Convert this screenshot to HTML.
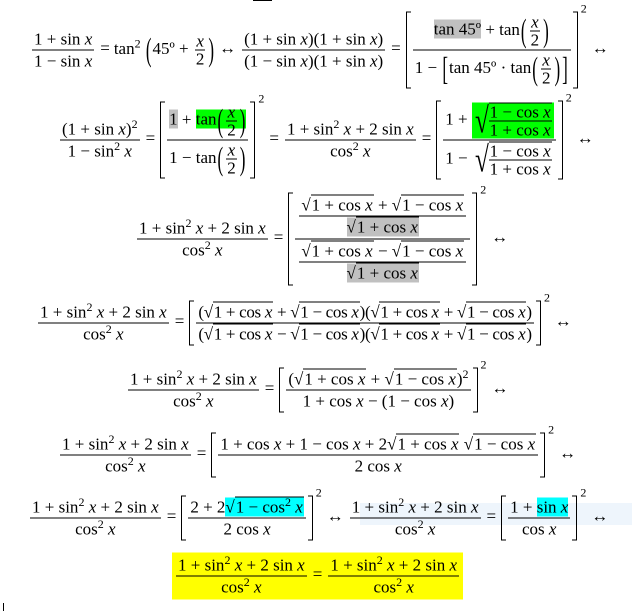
<!DOCTYPE html>
<html><head><meta charset="utf-8"><style>
body{margin:0;width:632px;height:614px;background:#fff;position:relative;overflow:hidden;font-family:"Liberation Serif",serif;font-size:17px;color:#000}
.row{position:absolute;white-space:nowrap;transform:translateY(-50%);line-height:19px}
.fr{display:inline-block;vertical-align:middle;text-align:center;margin:0 2px}
.fr>span{display:block;padding:1px 2px}
.fr>span:first-child{border-bottom:1px solid #000}
.sm{font-size:17px;line-height:17px}
.sm>span{padding:0 1px}
.op{margin:0 4px}
.bg{display:inline-block;vertical-align:middle;position:relative;padding:1px 5px;margin:0 10px 0 1px}
.bg::before,.bg::after{content:"";position:absolute;top:0;bottom:0;width:4px;border:1.4px solid #000}
.bg::before{left:0;border-right:none}
.bg::after{right:0;border-left:none}
.s2{font-size:12px;position:absolute;right:-9px;top:-9px;line-height:12px}
.p{display:inline-block;vertical-align:middle;transform:scaleY(1.9);margin:0 1px}
.sq{display:inline-block;white-space:nowrap}
.sq>span{border-top:1px solid #000;padding:0 1px}
.gr{background:#c0c0c0}.gn{background:#00ff00}.cy{background:#00ffff}
sup{font-size:12px;line-height:0}
.bsq{display:inline-block;vertical-align:middle}
.bsq>b{font-weight:normal;font-size:36px;display:inline-block;vertical-align:middle;transform:scaleX(0.7)}
.bsq>.fr{border-top:1px solid #000;margin-left:-3px}
</style></head><body>
<div style="position:absolute;left:253px;top:0;width:19px;height:1px;background:#000"></div>
<div style="position:absolute;left:3px;top:603px;width:1px;height:8px;background:#000"></div>
<div style="position:absolute;left:360px;top:503px;width:272px;height:22px;background:#eef5fc"></div>

<div class="row" style="left:30px;top:50px">
<span class="fr"><span>1 + sin <i>x</i></span><span>1 − sin <i>x</i></span></span><span class="op">=</span>tan<sup>2</sup> <span class="p">(</span>45º + <span class="fr sm"><span><i>x</i></span><span>2</span></span><span class="p">)</span><span class="op">↔</span><span class="fr"><span>(1 + sin <i>x</i>)(1 + sin <i>x</i>)</span><span>(1 − sin <i>x</i>)(1 + sin <i>x</i>)</span></span><span class="op">=</span><span class="bg"><span class="fr"><span><span class="gr">tan 45º</span> + tan<span class="p">(</span><span class="fr sm"><span><i>x</i></span><span>2</span></span><span class="p">)</span></span><span>1 − <span class="p">[</span>tan 45º · tan<span class="p">(</span><span class="fr sm"><span><i>x</i></span><span>2</span></span><span class="p">)</span><span class="p">]</span></span></span><span class="s2">2</span></span><span class="op">↔</span>
</div>

<div class="row" style="left:58px;top:140px">
<span class="fr"><span>(1 + sin <i>x</i>)<sup>2</sup></span><span>1 − sin<sup>2</sup> <i>x</i></span></span><span class="op">=</span><span class="bg"><span class="fr"><span><span class="gr">1</span> + <span class="gn">tan<span class="p">(</span><span class="fr sm"><span><i>x</i></span><span>2</span></span><span class="p">)</span></span></span><span>1 − tan<span class="p">(</span><span class="fr sm"><span><i>x</i></span><span>2</span></span><span class="p">)</span></span></span><span class="s2">2</span></span><span class="op">=</span><span class="fr"><span>1 + sin<sup>2</sup> <i>x</i> + 2 sin <i>x</i></span><span>cos<sup>2</sup> <i>x</i></span></span><span class="op">=</span><span class="bg"><span class="fr"><span>1 + <span class="bsq gn"><b>√</b><span class="fr sm"><span>1 − cos <i>x</i></span><span>1 + cos <i>x</i></span></span></span></span><span>1 − <span class="bsq"><b>√</b><span class="fr sm"><span>1 − cos <i>x</i></span><span>1 + cos <i>x</i></span></span></span></span></span><span class="s2">2</span></span><span class="op">↔</span>
</div>

<div class="row" style="left:135px;top:239px">
<span class="fr"><span>1 + sin<sup>2</sup> <i>x</i> + 2 sin <i>x</i></span><span>cos<sup>2</sup> <i>x</i></span></span><span class="op">=</span><span class="bg"><span class="fr"><span><span class="fr"><span><span class="sq">√<span>1 + cos <i>x</i></span></span> + <span class="sq">√<span>1 − cos <i>x</i></span></span></span><span><span class="gr"><span class="sq">√<span>1 + cos <i>x</i></span></span></span></span></span></span><span><span class="fr"><span><span class="sq">√<span>1 + cos <i>x</i></span></span> − <span class="sq">√<span>1 − cos <i>x</i></span></span></span><span><span class="gr"><span class="sq">√<span>1 + cos <i>x</i></span></span></span></span></span></span></span><span class="s2">2</span></span><span class="op">↔</span>
</div>

<div class="row" style="left:36px;top:323px">
<span class="fr"><span>1 + sin<sup>2</sup> <i>x</i> + 2 sin <i>x</i></span><span>cos<sup>2</sup> <i>x</i></span></span><span class="op">=</span><span class="bg" style="letter-spacing:-0.3px"><span class="fr"><span>(<span class="sq">√<span>1 + cos <i>x</i></span></span> + <span class="sq">√<span>1 − cos <i>x</i></span></span>)(<span class="sq">√<span>1 + cos <i>x</i></span></span> + <span class="sq">√<span>1 − cos <i>x</i></span></span>)</span><span>(<span class="sq">√<span>1 + cos <i>x</i></span></span> − <span class="sq">√<span>1 − cos <i>x</i></span></span>)(<span class="sq">√<span>1 + cos <i>x</i></span></span> + <span class="sq">√<span>1 − cos <i>x</i></span></span>)</span></span><span class="s2">2</span></span><span class="op">↔</span>
</div>

<div class="row" style="left:126px;top:390px">
<span class="fr"><span>1 + sin<sup>2</sup> <i>x</i> + 2 sin <i>x</i></span><span>cos<sup>2</sup> <i>x</i></span></span><span class="op">=</span><span class="bg"><span class="fr"><span>(<span class="sq">√<span>1 + cos <i>x</i></span></span> + <span class="sq">√<span>1 − cos <i>x</i></span></span>)<sup>2</sup></span><span>1 + cos <i>x</i> − (1 − cos <i>x</i>)</span></span><span class="s2">2</span></span><span class="op">↔</span>
</div>

<div class="row" style="left:58px;top:455px">
<span class="fr"><span>1 + sin<sup>2</sup> <i>x</i> + 2 sin <i>x</i></span><span>cos<sup>2</sup> <i>x</i></span></span><span class="op">=</span><span class="bg"><span class="fr"><span>1 + cos <i>x</i> + 1 − cos <i>x</i> + 2<span class="sq">√<span>1 + cos <i>x</i></span></span> <span class="sq">√<span>1 − cos <i>x</i></span></span></span><span>2 cos <i>x</i></span></span><span class="s2">2</span></span><span class="op">↔</span>
</div>

<div class="row" style="left:28px;top:518px">
<span class="fr"><span>1 + sin<sup>2</sup> <i>x</i> + 2 sin <i>x</i></span><span>cos<sup>2</sup> <i>x</i></span></span><span class="op">=</span><span class="bg"><span class="fr"><span>2 + 2<span class="cy sq">√<span>1 − cos<sup>2</sup> <i>x</i></span></span></span><span>2 cos <i>x</i></span></span><span class="s2">2</span></span><span class="op">↔</span><span class="fr"><span>1 + sin<sup>2</sup> <i>x</i> + 2 sin <i>x</i></span><span>cos<sup>2</sup> <i>x</i></span></span><span class="op">=</span><span class="bg"><span class="fr"><span>1 + <span class="cy">sin <i>x</i></span></span><span>cos <i>x</i></span></span><span class="s2">2</span></span><span class="op">↔</span>
</div>

<div class="row" style="left:172px;top:576px;background:#ffff00;padding:2px 2px">
<span class="fr"><span>1 + sin<sup>2</sup> <i>x</i> + 2 sin <i>x</i></span><span>cos<sup>2</sup> <i>x</i></span></span><span class="op">=</span><span class="fr"><span>1 + sin<sup>2</sup> <i>x</i> + 2 sin <i>x</i></span><span>cos<sup>2</sup> <i>x</i></span></span>
</div>
</body></html>
